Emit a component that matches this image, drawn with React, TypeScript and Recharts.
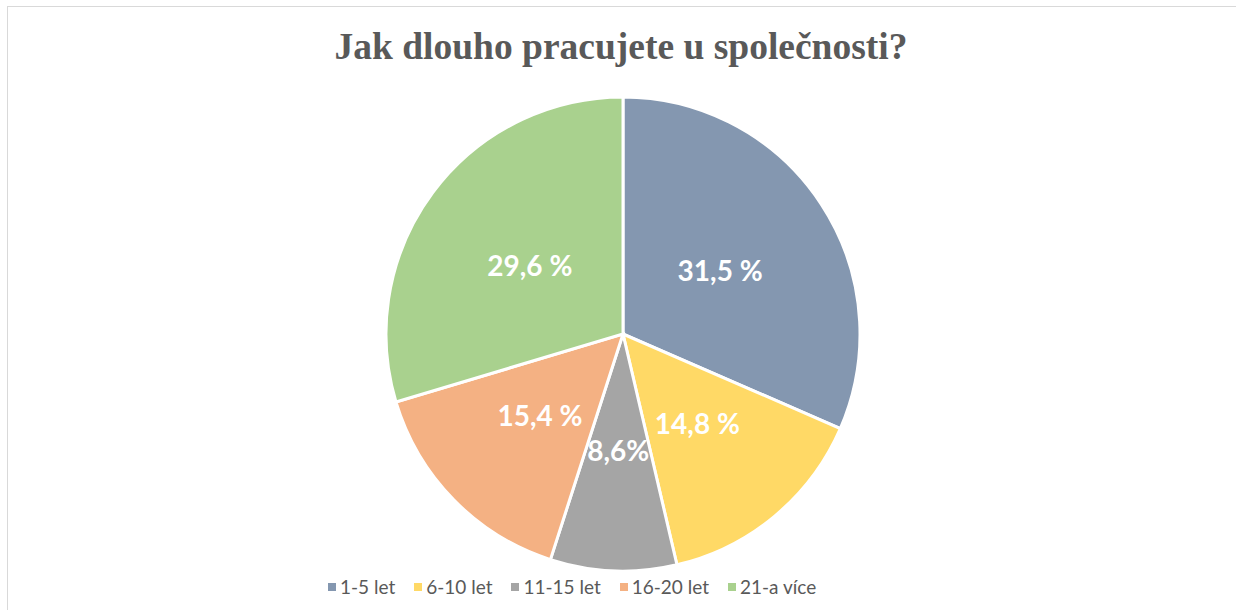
import React from "react";
import { PieChart, Pie, Cell } from "recharts";

const categories = ["1-5 let", "6-10 let", "11-15 let", "16-20 let", "21-a více"];
const values = [31.5, 14.8, 8.6, 15.4, 29.6];
const labelTexts = ["31,5 %", "14,8 %", "8,6%", "15,4 %", "29,6 %"];
const colors = ["#8497b0", "#ffd966", "#a5a5a5", "#f4b183", "#a9d18e"];
const title = "Jak dlouho pracujete u společnosti?";

const data = categories.map((name, i) => ({ name, value: values[i], label: labelTexts[i] }));

const RAD = Math.PI / 180;

const renderLabel = (props: any) => {
  const { cx, cy, midAngle, outerRadius, index } = props;
  const r = outerRadius * 0.49;
  const x = cx + r * Math.cos(-midAngle * RAD);
  const y = cy + r * Math.sin(-midAngle * RAD);
  return (
    <text
      x={x}
      y={y}
      fill="#ffffff"
      textAnchor="middle"
      dominantBaseline="central"
      style={{ fontFamily: "Lato, 'Open Sans', sans-serif", fontWeight: 700, fontSize: 28 }}
    >
      {labelTexts[index]}
    </text>
  );
};

export default function App() {
  return (
    <div style={{ position: "absolute", left: 0, top: 0, width: 1236, height: 610, background: "#fff", overflow: "hidden" }}>
      <div
        style={{
          position: "absolute",
          left: 7,
          top: 6,
          width: 1300,
          height: 700,
          border: "1px solid #d9d9d9",
          boxSizing: "border-box",
        }}
      />
      <div
        style={{
          position: "absolute",
          left: 0,
          top: 25,
          width: 1242,
          textAlign: "center",
          fontFamily: "'Liberation Serif', 'Times New Roman', serif",
          fontWeight: 700,
          fontSize: 37.5,
          color: "#595959",
          lineHeight: "44px",
        }}
      >
        {title}
      </div>
      <div style={{ position: "absolute", left: 0, top: 0 }}>
        <PieChart width={1236} height={610} margin={{ top: 0, right: 0, bottom: 0, left: 0 }}>
          <Pie
            data={data}
            dataKey="value"
            nameKey="name"
            cx={623}
            cy={334}
            outerRadius={237}
            startAngle={90}
            endAngle={-270}
            stroke="#ffffff"
            strokeWidth={3}
            label={renderLabel}
            labelLine={false}
            isAnimationActive={false}
          >
            {data.map((d, i) => (
              <Cell key={d.name} fill={colors[i]} />
            ))}
          </Pie>
        </PieChart>
      </div>
      <div
        style={{
          position: "absolute",
          left: 328,
          top: 575,
          display: "flex",
          alignItems: "center",
          fontFamily: "Lato, 'Open Sans', sans-serif",
          fontSize: 19,
          color: "#595959",
          lineHeight: "24px",
          whiteSpace: "nowrap",
        }}
      >
        {categories.map((c, i) => (
          <div key={c} style={{ display: "flex", alignItems: "center", marginRight: 19 }}>
            <span style={{ display: "inline-block", width: 8, height: 8, background: colors[i], marginRight: 4 }} />
            <span>{c}</span>
          </div>
        ))}
      </div>
    </div>
  );
}
